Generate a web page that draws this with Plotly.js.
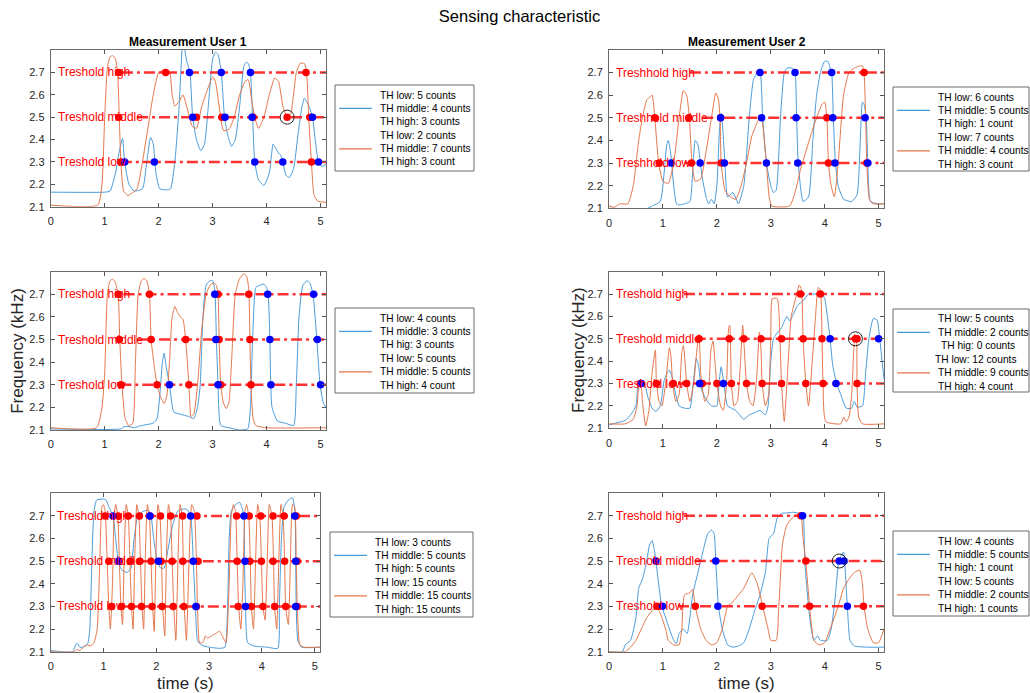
<!DOCTYPE html>
<html><head><meta charset="utf-8">
<script src="https://cdn.plot.ly/plotly-3.0.1.min.js"></script>
<style>html,body{margin:0;padding:0;background:#fff}#chart{width:1030px;height:693px}</style>
</head><body><div id="chart"></div>
<script>
// ---------------- DATA ----------------
const thresholdLevels = [2.3, 2.5, 2.7];           // low, middle, high
const thresholdNames = ['low', 'middle', 'high'];
const xTicks = [0, 1, 2, 3, 4, 5];
const yTicks = [2.1, 2.2, 2.3, 2.4, 2.5, 2.6, 2.7];

// User 1, row 1
const u1r1BlueT = [0,1.0,1.1,1.2,1.28,1.33,1.37,1.45,1.55,1.7,1.78,1.85,1.9,1.95,2.02,2.15,2.22,2.3,2.38,2.45,2.52,2.58,2.63,2.7,2.78,2.85,2.92,3.0,3.05,3.1,3.16,3.22,3.28,3.35,3.42,3.5,3.58,3.62,3.66,3.7,3.74,3.78,3.85,3.95,4.05,4.12,4.16,4.22,4.26,4.3,4.36,4.42,4.5,4.58,4.65,4.7,4.74,4.8,4.85,4.9,4.96,5.02,5.1];
const u1r1BlueF = [2.165,2.165,2.17,2.25,2.36,2.405,2.3,2.2,2.17,2.18,2.3,2.41,2.38,2.25,2.18,2.175,2.18,2.3,2.55,2.84,2.75,2.7,2.5,2.4,2.35,2.38,2.55,2.76,2.79,2.78,2.7,2.5,2.42,2.37,2.4,2.55,2.73,2.745,2.74,2.7,2.5,2.3,2.22,2.195,2.25,2.38,2.365,2.34,2.33,2.3,2.24,2.23,2.27,2.42,2.54,2.585,2.57,2.54,2.5,2.4,2.3,2.28,2.29];
const u1r1OrangeT = [0,0.87,0.95,1.0,1.05,1.1,1.15,1.2,1.24,1.27,1.3,1.35,1.43,1.5,1.6,1.7,1.8,1.9,2.0,2.1,2.2,2.25,2.3,2.38,2.45,2.55,2.62,2.7,2.8,2.9,3.0,3.05,3.12,3.2,3.3,3.4,3.5,3.6,3.66,3.72,3.78,3.85,3.95,4.05,4.15,4.22,4.3,4.38,4.45,4.55,4.62,4.7,4.74,4.78,4.83,4.88,4.95,5.1];
const u1r1OrangeF = [2.107,2.107,2.2,2.5,2.72,2.77,2.775,2.76,2.7,2.5,2.3,2.17,2.15,2.16,2.18,2.3,2.45,2.6,2.7,2.71,2.705,2.6,2.55,2.57,2.6,2.52,2.46,2.45,2.55,2.62,2.68,2.66,2.55,2.44,2.445,2.5,2.6,2.66,2.667,2.58,2.5,2.45,2.5,2.6,2.675,2.66,2.55,2.5,2.52,2.7,2.74,2.74,2.7,2.5,2.3,2.15,2.125,2.12];
const u1r1RedLow = [1.3, 4.83], u1r1RedMid = [1.26, 2.7, 3.17, 3.75, 4.38, 4.8], u1r1RedHigh = [1.26, 2.13, 4.73];
const u1r1DotLow = [1.37, 1.92, 3.78, 4.3, 4.96], u1r1DotMid = [2.63, 3.23, 3.73, 4.85], u1r1DotHigh = [2.57, 3.16, 3.7];
const u1r1Circle = [4.38];
const u1r1LegendBlue = ['TH low: 5 counts', 'TH middle: 4 counts', 'TH high: 3 counts'];
const u1r1LegendOrange = ['TH low: 2 counts', 'TH middle: 7 counts', 'TH high: 3 count'];

// User 2, row 1
const u2r1BlueT = [0,0.72,0.8,0.95,1.02,1.07,1.1,1.14,1.2,1.25,1.3,1.4,1.5,1.56,1.6,1.65,1.72,1.8,1.85,1.9,1.95,2.0,2.05,2.08,2.11,2.15,2.2,2.3,2.4,2.5,2.6,2.68,2.75,2.8,2.85,2.92,3.0,3.05,3.1,3.18,3.25,3.3,3.4,3.45,3.48,3.51,3.6,3.7,3.78,3.85,3.92,4.0,4.06,4.1,4.13,4.16,4.2,4.25,4.35,4.5,4.6,4.66,4.7,4.73,4.77,4.8,4.85,5.0,5.1];
const u2r1BlueF = [2.10,2.10,2.11,2.13,2.25,2.38,2.4,2.35,2.2,2.12,2.115,2.12,2.13,2.3,2.4,2.38,2.25,2.15,2.12,2.14,2.12,2.2,2.45,2.52,2.45,2.3,2.15,2.17,2.12,2.2,2.5,2.67,2.7,2.71,2.5,2.3,2.2,2.17,2.18,2.5,2.7,2.72,2.72,2.7,2.5,2.3,2.13,2.15,2.4,2.6,2.7,2.75,2.75,2.72,2.7,2.5,2.3,2.2,2.14,2.13,2.16,2.4,2.57,2.56,2.5,2.3,2.13,2.12,2.12];
const u2r1OrangeT = [0,0.1,0.2,0.35,0.45,0.55,0.62,0.7,0.75,0.8,0.85,0.92,1.0,1.1,1.2,1.3,1.38,1.44,1.49,1.54,1.6,1.7,1.8,1.9,1.98,2.03,2.06,2.08,2.15,2.25,2.35,2.45,2.55,2.65,2.75,2.82,2.86,2.92,2.97,3.02,3.35,3.45,3.55,3.65,3.75,3.85,3.95,4.0,4.04,4.07,4.12,4.18,4.25,4.35,4.45,4.55,4.65,4.7,4.73,4.76,4.78,4.83,4.9,5.1];
const u2r1OrangeF = [2.11,2.105,2.12,2.12,2.2,2.4,2.5,2.58,2.59,2.6,2.5,2.3,2.22,2.21,2.3,2.5,2.62,2.6,2.5,2.3,2.22,2.23,2.35,2.5,2.61,2.58,2.5,2.3,2.18,2.15,2.14,2.2,2.3,2.42,2.48,2.51,2.45,2.3,2.15,2.11,2.11,2.17,2.27,2.35,2.43,2.5,2.56,2.57,2.5,2.3,2.2,2.15,2.3,2.6,2.7,2.72,2.73,2.73,2.7,2.5,2.3,2.14,2.12,2.12];
const u2r1RedLow = [0.93, 1.53, 2.08, 4.07, 4.78], u2r1RedMid = [0.85, 1.48, 2.07, 4.04], u2r1RedHigh = [4.73];
const u2r1DotLow = [1.15, 1.69, 2.14, 2.92, 3.5, 4.19, 4.8], u2r1DotMid = [2.07, 2.83, 3.47, 4.15, 4.75], u2r1DotHigh = [2.8, 3.45, 4.13];
const u2r1Circle = [];
const u2r1LegendBlue = ['TH low: 6 counts', 'TH middle: 5 counts', 'TH high: 1 count'];
const u2r1LegendOrange = ['TH low: 7 counts', 'TH middle: 4 counts', 'TH high: 3 count'];

// User 1, row 2
const u1r2BlueT = [0,1.3,1.36,1.45,1.55,1.65,1.8,1.9,1.97,2.03,2.07,2.1,2.14,2.2,2.28,2.4,2.55,2.65,2.72,2.77,2.82,2.88,2.95,3.0,3.04,3.07,3.1,3.15,3.3,3.5,3.65,3.7,3.74,3.8,3.87,3.95,4.0,4.03,4.06,4.1,4.2,4.35,4.5,4.55,4.6,4.67,4.75,4.8,4.86,4.93,4.99,5.05,5.1];
const u1r2BlueF = [2.105,2.105,2.115,2.115,2.11,2.118,2.125,2.13,2.15,2.28,2.4,2.44,2.38,2.3,2.18,2.17,2.16,2.15,2.2,2.3,2.6,2.74,2.76,2.76,2.72,2.5,2.3,2.12,2.11,2.10,2.105,2.2,2.5,2.73,2.74,2.745,2.73,2.7,2.5,2.2,2.14,2.13,2.12,2.3,2.6,2.74,2.76,2.75,2.7,2.5,2.3,2.22,2.2];
const u1r2OrangeT = [0,0.85,0.95,1.0,1.05,1.1,1.15,1.2,1.25,1.28,1.32,1.38,1.45,1.52,1.57,1.62,1.68,1.73,1.78,1.83,1.86,1.92,1.97,2.03,2.1,2.15,2.2,2.25,2.3,2.35,2.4,2.45,2.5,2.56,2.6,2.65,2.72,2.8,2.88,2.95,3.02,3.07,3.1,3.12,3.15,3.2,3.25,3.3,3.35,3.42,3.5,3.58,3.63,3.67,3.69,3.71,3.75,3.8,4.0,5.1];
const u1r2OrangeF = [2.11,2.11,2.2,2.35,2.7,2.76,2.767,2.75,2.7,2.5,2.3,2.15,2.118,2.13,2.4,2.7,2.76,2.77,2.76,2.7,2.5,2.38,2.3,2.25,2.217,2.25,2.4,2.6,2.646,2.62,2.6,2.59,2.5,2.3,2.16,2.17,2.3,2.55,2.7,2.74,2.75,2.74,2.7,2.5,2.3,2.22,2.195,2.22,2.4,2.7,2.77,2.79,2.78,2.72,2.5,2.3,2.15,2.12,2.11,2.11];
const u1r2RedLow = [1.3, 1.97, 2.56, 3.15, 3.71], u1r2RedMid = [1.27, 1.86, 2.5, 3.12, 3.69], u1r2RedHigh = [1.25, 1.83, 3.1, 3.67];
const u1r2DotLow = [2.2, 3.1, 4.08, 5.0], u1r2DotMid = [3.06, 4.06, 4.94], u1r2DotHigh = [3.04, 4.02, 4.87];
const u1r2Circle = [];
const u1r2LegendBlue = ['TH low: 4 counts', 'TH middle: 3 counts', 'TH hig: 3 counts'];
const u1r2LegendOrange = ['TH low: 5 counts', 'TH middle: 5 counts', 'TH high: 4 count'];

// User 2, row 2
const u2r2BlueT = [0,0.15,0.3,0.4,0.5,0.53,0.57,0.65,0.72,0.8,0.87,0.95,1.02,1.08,1.12,1.17,1.22,1.3,1.4,1.5,1.56,1.62,1.66,1.72,1.8,1.9,2.0,2.04,2.08,2.13,2.2,2.35,2.5,2.6,2.7,2.8,2.9,2.95,3.0,3.05,3.1,3.2,3.3,3.35,3.4,3.5,3.6,3.7,3.85,3.95,4.0,4.05,4.1,4.15,4.22,4.3,4.4,4.5,4.55,4.6,4.7,4.76,4.82,4.9,4.97,5.02,5.1];
const u2r2BlueF = [2.115,2.125,2.135,2.16,2.2,2.28,2.315,2.31,2.24,2.19,2.175,2.2,2.31,2.35,2.36,2.33,2.27,2.2,2.19,2.19,2.3,2.412,2.38,2.27,2.23,2.2,2.2,2.3,2.375,2.3,2.2,2.18,2.14,2.16,2.17,2.18,2.16,2.2,2.4,2.5,2.52,2.55,2.6,2.58,2.6,2.65,2.67,2.7,2.7,2.7,2.68,2.6,2.5,2.38,2.3,2.25,2.19,2.19,2.22,2.195,2.2,2.35,2.5,2.59,2.585,2.5,2.32];
const u2r2OrangeT = [0,0.3,0.45,0.52,0.56,0.59,0.62,0.68,0.74,0.8,0.86,0.88,0.93,0.98,1.05,1.12,1.15,1.18,1.24,1.3,1.35,1.38,1.41,1.44,1.5,1.57,1.63,1.67,1.7,1.73,1.78,1.84,1.89,1.93,1.97,2.0,2.07,2.12,2.18,2.22,2.24,2.27,2.32,2.38,2.44,2.48,2.51,2.55,2.61,2.67,2.73,2.79,2.82,2.84,2.9,2.96,3.0,3.03,3.12,3.17,3.2,3.25,3.3,3.38,3.46,3.53,3.57,3.6,3.65,3.7,3.77,3.83,3.88,3.92,3.95,3.97,4.02,4.3,4.35,4.4,4.45,4.5,4.54,4.56,4.59,4.6,4.63,4.7,5.1];
const u2r2OrangeF = [2.12,2.12,2.14,2.2,2.3,2.3,2.22,2.11,2.18,2.35,2.45,2.3,2.22,2.2,2.3,2.46,2.42,2.3,2.22,2.25,2.44,2.47,2.4,2.3,2.22,2.3,2.45,2.52,2.35,2.28,2.22,2.25,2.45,2.49,2.38,2.3,2.2,2.18,2.3,2.55,2.56,2.3,2.2,2.22,2.4,2.56,2.45,2.3,2.22,2.2,2.3,2.53,2.45,2.3,2.2,2.25,2.5,2.68,2.68,2.5,2.3,2.13,2.3,2.6,2.68,2.74,2.72,2.5,2.3,2.2,2.4,2.6,2.73,2.72,2.5,2.3,2.13,2.12,2.15,2.13,2.15,2.25,2.45,2.52,2.5,2.3,2.15,2.12,2.12];
const u2r2RedLow = [0.58, 0.88, 1.19, 1.44, 1.7, 1.73, 2.0, 2.27, 2.55, 2.84, 3.2, 3.65, 3.97, 4.6], u2r2RedMid = [1.67, 2.23, 2.5, 2.82, 3.2, 3.6, 3.95, 4.57, 4.6], u2r2RedHigh = [3.55, 3.92];
const u2r2DotLow = [0.6, 1.68, 2.12, 4.21], u2r2DotMid = [4.1, 5.0], u2r2DotHigh = [];
const u2r2Circle = [4.57];
const u2r2LegendBlue = ['TH low: 5 counts', 'TH middle: 2 counts', 'TH hig: 0 counts'];
const u2r2LegendOrange = ['TH low: 12 counts', 'TH middle: 9 counts', 'TH high: 4 count'];

// User 1, row 3
const u1r3BlueT = [0,0.42,0.47,0.5,0.55,0.6,0.7,0.74,0.78,0.82,0.87,1.0,1.05,1.1,1.18,1.23,1.28,1.35,1.45,1.52,1.58,1.65,1.75,1.85,1.9,1.95,2.02,2.08,2.15,2.22,2.3,2.4,2.5,2.58,2.65,2.7,2.74,2.78,2.85,3.0,3.2,3.3,3.35,3.38,3.42,3.5,3.58,3.63,3.66,3.67,3.69,3.73,3.85,4.1,4.3,4.33,4.37,4.42,4.5,4.58,4.61,4.63,4.64,4.65,4.68,4.75,5.1];
const u1r3BlueF = [2.105,2.1,2.13,2.137,2.12,2.12,2.135,2.2,2.5,2.72,2.77,2.775,2.77,2.74,2.7,2.6,2.5,2.46,2.45,2.47,2.6,2.7,2.72,2.725,2.7,2.6,2.5,2.47,2.47,2.55,2.65,2.72,2.73,2.73,2.7,2.5,2.3,2.15,2.13,2.12,2.115,2.12,2.3,2.6,2.72,2.75,2.76,2.73,2.7,2.5,2.3,2.14,2.125,2.12,2.115,2.3,2.6,2.74,2.77,2.78,2.75,2.7,2.5,2.3,2.15,2.12,2.12];
const u1r3OrangeT = [0,0.45,0.5,0.55,0.62,0.7,0.75,0.82,0.88,0.93,0.97,1.0,1.03,1.07,1.1,1.13,1.17,1.2,1.23,1.27,1.3,1.33,1.36,1.39,1.43,1.47,1.5,1.53,1.56,1.59,1.63,1.67,1.7,1.73,1.76,1.79,1.83,1.87,1.9,1.93,1.96,1.99,2.03,2.07,2.1,2.12,2.16,2.19,2.23,2.27,2.3,2.33,2.37,2.41,2.45,2.49,2.51,2.53,2.57,2.62,2.67,2.72,2.76,2.78,2.82,2.88,2.93,2.97,3.05,3.12,3.2,3.27,3.32,3.38,3.42,3.46,3.5,3.53,3.56,3.6,3.64,3.68,3.71,3.75,3.78,3.8,3.84,3.88,3.92,3.96,3.99,4.02,4.06,4.1,4.14,4.19,4.22,4.24,4.28,4.32,4.36,4.4,4.43,4.45,4.5,4.54,4.58,4.62,4.65,4.67,4.72,4.8,5.1];
const u1r3OrangeF = [2.1,2.1,2.11,2.105,2.12,2.13,2.125,2.14,2.2,2.5,2.74,2.75,2.72,2.5,2.3,2.2,2.4,2.7,2.75,2.7,2.5,2.3,2.22,2.5,2.75,2.7,2.5,2.3,2.2,2.5,2.75,2.7,2.5,2.3,2.2,2.5,2.75,2.7,2.5,2.3,2.19,2.5,2.75,2.7,2.5,2.3,2.17,2.5,2.75,2.7,2.5,2.3,2.15,2.5,2.75,2.7,2.5,2.3,2.15,2.5,2.75,2.72,2.5,2.3,2.14,2.14,2.17,2.16,2.17,2.18,2.19,2.16,2.14,2.4,2.7,2.75,2.72,2.5,2.3,2.2,2.4,2.72,2.75,2.7,2.5,2.3,2.2,2.5,2.75,2.7,2.5,2.3,2.24,2.5,2.75,2.7,2.5,2.3,2.2,2.5,2.75,2.7,2.5,2.3,2.22,2.5,2.75,2.74,2.5,2.3,2.13,2.12,2.12];
const u1r3RedLow = [1.15, 1.34, 1.53, 1.72, 1.92, 2.11, 2.32, 2.52, 2.76, 3.55, 3.8, 4.02, 4.24, 4.45, 4.67];
const u1r3RedMid = [1.1, 1.3, 1.51, 1.69, 1.9, 2.09, 2.3, 2.5, 2.79, 3.53, 3.77, 3.99, 4.21, 4.43, 4.67];
const u1r3RedHigh = [1.03, 1.28, 1.47, 1.68, 1.88, 2.08, 2.27, 2.5, 2.77, 3.52, 3.76, 3.98, 4.21, 4.42, 4.65];
const u1r3DotLow = [2.75, 3.69, 4.64], u1r3DotMid = [1.28, 2.04, 2.7, 3.68, 4.64], u1r3DotHigh = [1.18, 1.88, 2.65, 3.66, 4.62];
const u1r3Circle = [];
const u1r3LegendBlue = ['TH low: 3 counts', 'TH middle: 5 counts', 'TH high: 5 counts'];
const u1r3LegendOrange = ['TH low: 15 counts', 'TH middle: 15 counts', 'TH high: 15 counts'];

// User 2, row 3
const u2r3BlueT = [0,0.25,0.3,0.4,0.5,0.55,0.62,0.7,0.75,0.8,0.84,0.87,0.93,0.98,1.05,1.12,1.2,1.25,1.3,1.38,1.45,1.5,1.55,1.65,1.75,1.83,1.9,1.95,1.98,2.03,2.1,2.2,2.3,2.4,2.5,2.6,2.7,2.8,2.9,2.97,3.05,3.12,3.2,3.3,3.4,3.5,3.57,3.6,3.63,3.7,3.75,3.8,3.87,3.92,4.05,4.12,4.2,4.25,4.3,4.35,4.37,4.42,4.47,4.55,4.8,5.1];
const u2r3BlueF = [2.1,2.1,2.13,2.15,2.25,2.38,2.42,2.5,2.57,2.59,2.55,2.5,2.38,2.3,2.25,2.2,2.15,2.135,2.18,2.2,2.18,2.25,2.35,2.45,2.55,2.62,2.636,2.62,2.5,2.3,2.2,2.13,2.12,2.125,2.14,2.2,2.28,2.35,2.45,2.6,2.62,2.69,2.71,2.712,2.715,2.712,2.705,2.7,2.5,2.3,2.2,2.15,2.17,2.15,2.15,2.2,2.35,2.48,2.52,2.54,2.5,2.3,2.15,2.125,2.12,2.12];
const u2r3OrangeT = [0,0.3,0.4,0.5,0.6,0.7,0.8,0.88,0.95,1.05,1.1,1.2,1.3,1.35,1.4,1.5,1.55,1.6,1.7,1.8,1.9,2.0,2.1,2.2,2.3,2.4,2.5,2.58,2.65,2.75,2.85,2.95,3.0,3.1,3.15,3.22,3.3,3.4,3.5,3.56,3.6,3.65,3.72,3.8,3.9,4.0,4.1,4.25,4.35,4.45,4.55,4.65,4.7,4.73,4.8,4.9,5.0,5.1];
const u2r3OrangeF = [2.1,2.1,2.12,2.15,2.2,2.25,2.28,2.3,2.27,2.2,2.15,2.13,2.13,2.2,2.35,2.36,2.375,2.3,2.2,2.15,2.13,2.14,2.2,2.3,2.32,2.35,2.38,2.42,2.448,2.4,2.3,2.2,2.15,2.15,2.3,2.58,2.66,2.69,2.705,2.7,2.6,2.5,2.3,2.15,2.13,2.14,2.2,2.3,2.38,2.42,2.45,2.46,2.4,2.3,2.2,2.14,2.14,2.2];
const u2r3RedLow = [0.89, 1.6, 2.84, 3.72, 4.72], u2r3RedMid = [3.65], u2r3RedHigh = [3.56];
const u2r3DotLow = [0.99, 2.02, 4.42], u2r3DotMid = [0.87, 1.98, 4.27, 4.36], u2r3DotHigh = [3.59];
const u2r3Circle = [4.27];
const u2r3LegendBlue = ['TH low: 4 counts', 'TH middle: 5 counts', 'TH high: 1 count'];
const u2r3LegendOrange = ['TH low: 5 counts', 'TH middle: 2 counts', 'TH high: 1 counts'];

const subplotTitles = ['Measurement User 1', 'Measurement User 2'];

// ---------------- STYLE / LAYOUT ----------------
const W = 1030, H = 693, XMAX = 5.1;
const FONT = 'Liberation Sans, Arial, Helvetica, sans-serif';
const BLUE = '#4a9bd9', ORANGE = '#e4764a';
const TH_RED = 'rgba(255,20,20,0.88)';

const panels = [
  {bt:u1r1BlueT,bf:u1r1BlueF,ot:u1r1OrangeT,of:u1r1OrangeF,red:[u1r1RedLow,u1r1RedMid,u1r1RedHigh],dot:[u1r1DotLow,u1r1DotMid,u1r1DotHigh],circ:u1r1Circle,
   prefix:'Treshold',start:[1.3,1.6,1.32],box:[50.7,326,50,206.7],lg:[335,474,85,171],lb:u1r1LegendBlue,lo:u1r1LegendOrange,shift:[0,0,0,0,0,0]},
  {bt:u2r1BlueT,bf:u2r1BlueF,ot:u2r1OrangeT,of:u2r1OrangeF,red:[u2r1RedLow,u2r1RedMid,u2r1RedHigh],dot:[u2r1DotLow,u2r1DotMid,u2r1DotHigh],circ:u2r1Circle,
   prefix:'Treshhold',start:[1.4,1.73,1.5],box:[609,884,50,208.3],lg:[893,1029,87,171],lb:u2r1LegendBlue,lo:u2r1LegendOrange,shift:[0,0,0,0,0,0]},
  {bt:u1r2BlueT,bf:u1r2BlueF,ot:u1r2OrangeT,of:u1r2OrangeF,red:[u1r2RedLow,u1r2RedMid,u1r2RedHigh],dot:[u1r2DotLow,u1r2DotMid,u1r2DotHigh],circ:u1r2Circle,
   prefix:'Treshold',start:[1.29,1.6,1.35],box:[50.7,326,271.7,430],lg:[335,474,308,393],lb:u1r2LegendBlue,lo:u1r2LegendOrange,shift:[0,0,0,0,0,0]},
  {bt:u2r2BlueT,bf:u2r2BlueF,ot:u2r2OrangeT,of:u2r2OrangeF,red:[u2r2RedLow,u2r2RedMid,u2r2RedHigh],dot:[u2r2DotLow,u2r2DotMid,u2r2DotHigh],circ:u2r2Circle,
   prefix:'Treshold',start:[1.28,1.59,1.39],box:[609,884,271.7,428.3],lg:[893,1029,309,392],lb:u2r2LegendBlue,lo:u2r2LegendOrange,shift:[0,0,3,-3,0,0]},
  {bt:u1r3BlueT,bf:u1r3BlueF,ot:u1r3OrangeT,of:u1r3OrangeF,red:[u1r3RedLow,u1r3RedMid,u1r3RedHigh],dot:[u1r3DotLow,u1r3DotMid,u1r3DotHigh],circ:u1r3Circle,
   prefix:'Treshold',start:[1.31,1.63,1.37],box:[50.7,320,493.3,651.7],lg:[330,473,532,617],lb:u1r3LegendBlue,lo:u1r3LegendOrange,shift:[0,0,0,0,0,0]},
  {bt:u2r3BlueT,bf:u2r3BlueF,ot:u2r3OrangeT,of:u2r3OrangeF,red:[u2r3RedLow,u2r3RedMid,u2r3RedHigh],dot:[u2r3DotLow,u2r3DotMid,u2r3DotHigh],circ:u2r3Circle,
   prefix:'Treshold',start:[1.28,1.59,1.39],box:[609,884,493,651.7],lg:[893,1029,531,616],lb:u2r3LegendBlue,lo:u2r3LegendOrange,shift:[0,0,0,0,0,0]}
];

const traces = [], annotations = [], shapes = [];
const layout = {
  width: W, height: H, margin: {l:0, r:0, t:0, b:0},
  paper_bgcolor: '#fff', plot_bgcolor: '#fff', showlegend: false,
  font: {family: FONT, color: '#262626'},
  title: {text: 'Sensing characteristic', x: 519.5 / W, xanchor: 'center', y: 1 - 16 / H, yanchor: 'middle',
          font: {family: FONT, size: 16.5, color: '#000'}},
};

const legendOffsets = [10, 23.3, 36.5, 50.5, 63.8, 77];

panels.forEach((p, i) => {
  const s = i === 0 ? '' : String(i + 1);
  const xa = 'x' + s, ya = 'y' + s;
  const axCommon = {ticks: 'inside', ticklen: 4, tickcolor: '#555', showline: true, linecolor: '#6a6a6a', linewidth: 1,
    mirror: 'ticks', showgrid: false, zeroline: false, fixedrange: true, tickfont: {family: FONT, size: 11, color: '#262626'}};
  layout['xaxis' + s] = Object.assign({}, axCommon, {domain: [p.box[0] / W, p.box[1] / W], anchor: ya,
    range: [0, XMAX], tickvals: xTicks, ticklabelstandoff: 4});
  layout['yaxis' + s] = Object.assign({}, axCommon, {domain: [1 - p.box[3] / H, 1 - p.box[2] / H], anchor: xa,
    range: [2.1, 2.8], tickvals: yTicks, tickformat: '.1f', ticklabelstandoff: 3});

  traces.push({x: p.bt, y: p.bf, xaxis: xa, yaxis: ya, mode: 'lines', line: {color: BLUE, width: 1, shape: 'spline', smoothing: 0.5}, hoverinfo: 'skip'});
  traces.push({x: p.ot, y: p.of, xaxis: xa, yaxis: ya, mode: 'lines', line: {color: ORANGE, width: 1, shape: 'spline', smoothing: 0.5}, hoverinfo: 'skip'});

  thresholdLevels.forEach((lev, k) => {
    traces.push({x: [p.start[k], XMAX], y: [lev, lev], xaxis: xa, yaxis: ya, mode: 'lines',
      line: {color: TH_RED, width: 2.5, dash: '11px,4px,3px,4px'}, hoverinfo: 'skip'});
    annotations.push({xref: xa, yref: ya, x: 0.09, y: lev, xanchor: 'left', yanchor: 'middle', showarrow: false,
      text: p.prefix + ' ' + thresholdNames[k], font: {family: FONT, size: 12, color: '#ff0000'}});
  });

  const rx = [], ry = [], bx = [], by = [];
  thresholdLevels.forEach((lev, k) => {
    p.red[k].forEach(v => { rx.push(v); ry.push(lev); });
    p.dot[k].forEach(v => { bx.push(v); by.push(lev); });
  });
  traces.push({x: rx, y: ry, xaxis: xa, yaxis: ya, mode: 'markers', marker: {color: '#ff0000', size: 7.5}, hoverinfo: 'skip'});
  traces.push({x: bx, y: by, xaxis: xa, yaxis: ya, mode: 'markers', marker: {color: '#0000ff', size: 7.5}, hoverinfo: 'skip'});
  if (p.circ.length) {
    traces.push({x: p.circ, y: p.circ.map(() => thresholdLevels[1]), xaxis: xa, yaxis: ya, mode: 'markers',
      marker: {symbol: 'circle-open', color: '#222', size: 14, line: {width: 1}}, hoverinfo: 'skip'});
  }

  // legend box
  const [l, r, t, b] = p.lg;
  shapes.push({type: 'rect', xref: 'paper', yref: 'paper', x0: l / W, x1: r / W, y0: 1 - b / H, y1: 1 - t / H,
    line: {color: '#6a6a6a', width: 1}, fillcolor: '#fff'});
  [[BLUE, legendOffsets[1]], [ORANGE, legendOffsets[4]]].forEach(([c, off]) => {
    shapes.push({type: 'line', xref: 'paper', yref: 'paper', x0: (l + 4) / W, x1: (l + 37) / W,
      y0: 1 - (t + off) / H, y1: 1 - (t + off) / H, line: {color: c, width: 1.2}});
  });
  p.lb.concat(p.lo).forEach((txt, j) => {
    annotations.push({xref: 'paper', yref: 'paper', x: (l + 43 + p.shift[j]) / W, y: 1 - (t + legendOffsets[j]) / H,
      xanchor: 'left', yanchor: 'middle', showarrow: false, text: txt,
      font: {family: FONT, size: 10.2, color: '#000'}});
  });
});

// subplot titles
[[panels[0], subplotTitles[0]], [panels[1], subplotTitles[1]]].forEach(([p, txt]) => {
  annotations.push({xref: 'paper', yref: 'paper', x: (p.box[0] + p.box[1]) / 2 / W, y: 1 - 42 / H, xanchor: 'center', yanchor: 'middle',
    showarrow: false, text: txt, font: {family: FONT, size: 12, color: '#000', weight: 'bold'}});
});
// y axis titles (middle row)
[[18, panels[2]], [578, panels[3]]].forEach(([xp, p]) => {
  annotations.push({xref: 'paper', yref: 'paper', x: xp / W, y: 1 - ((p.box[2] + p.box[3]) / 2) / H, xanchor: 'center', yanchor: 'middle',
    showarrow: false, textangle: -90, text: 'Frequency (kHz)', font: {family: FONT, size: 17, color: '#262626'}});
});
// x axis titles (bottom row)
[panels[4], panels[5]].forEach(p => {
  annotations.push({xref: 'paper', yref: 'paper', x: (p.box[0] + p.box[1]) / 2 / W, y: 1 - 683 / H, xanchor: 'center', yanchor: 'middle',
    showarrow: false, text: 'time (s)', font: {family: FONT, size: 17, color: '#262626'}});
});

layout.annotations = annotations;
layout.shapes = shapes;

Plotly.newPlot('chart', traces, layout, {displayModeBar: false, staticPlot: true});
</script>
</body></html>
